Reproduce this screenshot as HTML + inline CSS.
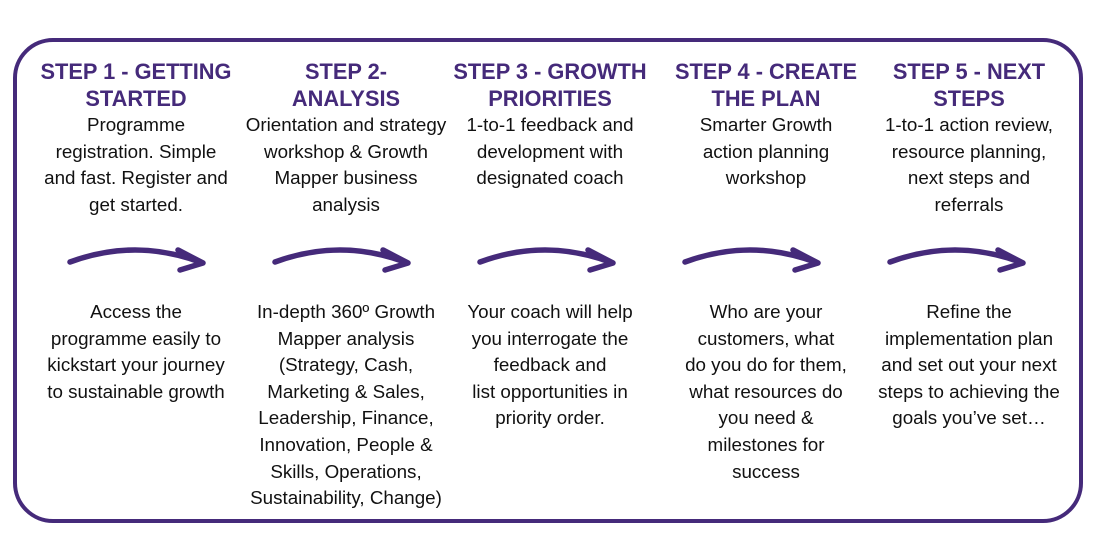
<!DOCTYPE html>
<html><head><meta charset="utf-8"><style>
body{margin:0;width:1100px;height:550px;background:#fff;position:relative;font-family:"Liberation Sans",sans-serif;overflow:hidden}
.box{position:absolute;left:13px;top:38px;width:1062px;height:477px;border:4px solid #452a7a;border-radius:40px}
.col{position:absolute;width:220px;text-align:center}
.t{color:#452a7a;font-weight:bold;font-size:21.8px;line-height:27px}
.b{color:#111;font-size:18.8px;line-height:26.6px}
.top{top:58px}.bot{top:299px}
svg{position:absolute;left:0;top:0}
</style></head><body>
<div class="box"></div>
<div class="col top" style="left:26px"><div class="t">STEP 1 - GETTING STARTED</div><div class="b">Programme<br>registration. Simple<br>and fast. Register and<br>get started.</div></div>
<div class="col top" style="left:236px"><div class="t">STEP 2-<br>ANALYSIS</div><div class="b">Orientation and strategy<br>workshop &amp; Growth<br>Mapper business<br>analysis</div></div>
<div class="col top" style="left:440px"><div class="t">STEP 3 - GROWTH PRIORITIES</div><div class="b">1-to-1 feedback and<br>development with<br>designated coach</div></div>
<div class="col top" style="left:656px"><div class="t">STEP 4 - CREATE<br>THE PLAN</div><div class="b">Smarter Growth<br>action planning<br>workshop</div></div>
<div class="col top" style="left:859px"><div class="t">STEP 5 - NEXT<br>STEPS</div><div class="b">1-to-1 action review,<br>resource planning,<br>next steps and<br>referrals</div></div>
<div class="col bot" style="left:26px"><div class="b">Access the<br>programme easily to<br>kickstart your journey<br>to sustainable growth</div></div>
<div class="col bot" style="left:236px"><div class="b">In-depth 360º Growth<br>Mapper analysis<br>(Strategy, Cash,<br>Marketing &amp; Sales,<br>Leadership, Finance,<br>Innovation, People &amp;<br>Skills, Operations,<br>Sustainability, Change)</div></div>
<div class="col bot" style="left:440px"><div class="b">Your coach will help<br>you interrogate the<br>feedback and<br>list opportunities in<br>priority order.</div></div>
<div class="col bot" style="left:656px"><div class="b">Who are your<br>customers, what<br>do you do for them,<br>what resources do<br>you need &amp;<br>milestones for<br>success</div></div>
<div class="col bot" style="left:859px"><div class="b">Refine the<br>implementation plan<br>and set out your next<br>steps to achieving the<br>goals you’ve set…</div></div>
<svg width="1100" height="550">
<defs><g id="a" fill="none" stroke="#452a7a" stroke-width="5.5" stroke-linecap="round" stroke-linejoin="round">
<path d="M70 262 Q135 238 200 262"/><path d="M178 250 L203 263 L180 270"/></g></defs>
<use href="#a"/><use href="#a" x="205"/><use href="#a" x="410"/><use href="#a" x="615"/><use href="#a" x="820"/>
</svg>
</body></html>
